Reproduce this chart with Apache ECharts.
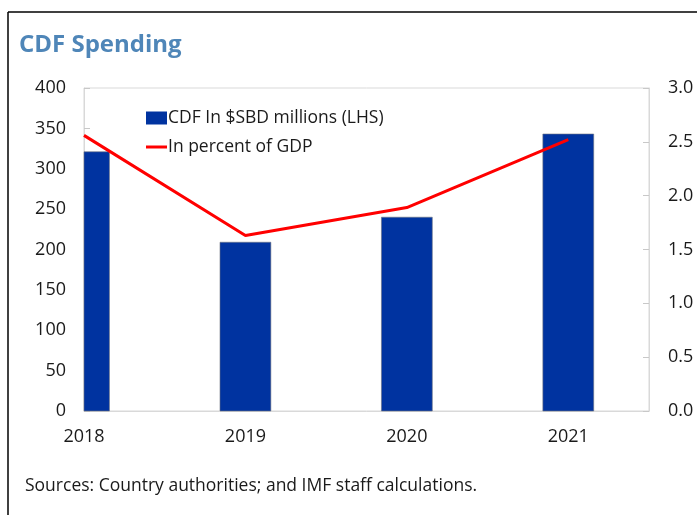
<!DOCTYPE html>
<html>
<head>
<meta charset="utf-8">
<script src="https://cdn.jsdelivr.net/npm/echarts@6/dist/echarts.min.js"></script>
<style>
  html, body { margin: 0; padding: 0; background: #fff; }
  #chart { width: 697px; height: 515px; }
</style>
</head>
<body>
<div id="chart"></div>
<script>
// Years on the horizontal axis
const years = [2018, 2019, 2020, 2021];
// CDF spending, SBD millions (left axis)
const cdfSpending = [321, 209, 240, 343];
// CDF spending as a share of GDP, percent (right axis)
const cdfPctGdp = [2.56, 1.63, 1.89, 2.52];
// Axis tick settings
const leftTicks = { min: 0, max: 400, interval: 50 };
const rightTicks = { min: 0, max: 3, interval: 0.5 };
// Bar width, in years
const BAR_SPAN = 0.315;

const FONT = '"Open Sans", "Noto Sans", sans-serif';
const TEXT = '#1a1a1a';
const FRAME = '#d9d9d9';

const chart = echarts.init(document.getElementById('chart'), null, { renderer: 'canvas' });

// Bars drawn as a custom series so the bar at the axis start is clipped to the plot area
function renderBar(params, api) {
  const x = api.value(0);
  const v = api.value(1);
  const left = api.coord([x - BAR_SPAN / 2, v]);
  const right = api.coord([x + BAR_SPAN / 2, 0]);
  const cs = params.coordSys;
  const rect = echarts.graphic.clipRectByRect(
    { x: left[0], y: left[1], width: right[0] - left[0], height: right[1] - left[1] },
    { x: cs.x, y: cs.y, width: cs.width, height: cs.height }
  );
  if (!rect) return null;
  return {
    type: 'rect',
    shape: rect,
    style: { fill: '#0033a0', stroke: '#6b7280', lineWidth: 0.6 }
  };
}

chart.setOption({
  backgroundColor: '#ffffff',
  animation: false,
  textStyle: { fontFamily: FONT },
  title: {
    text: 'CDF Spending',
    left: 14,
    top: 28,
    textStyle: { fontFamily: FONT, fontSize: 24, fontWeight: 'bold', color: '#4f86b8' }
  },
  graphic: [
    { type: 'line', shape: { x1: 8, y1: 12, x2: 697, y2: 12 }, style: { stroke: '#000', lineWidth: 1.5 } },
    { type: 'line', shape: { x1: 8, y1: 12, x2: 8, y2: 515 }, style: { stroke: '#000', lineWidth: 1.5 } },
    {
      type: 'text', left: 25, top: 477,
      style: { text: 'Sources: Country authorities; and IMF staff calculations.', font: '17.5px ' + FONT, fill: TEXT }
    }
  ],
  legend: {
    orient: 'vertical',
    left: 141,
    top: 104,
    itemGap: 11,
    itemWidth: 21,
    itemHeight: 13,
    itemStyle: { borderWidth: 0 },
    textStyle: { fontFamily: FONT, fontSize: 17.5, color: TEXT, padding: [0, 0, 0, -4] },
    data: [
      { name: 'CDF In $SBD millions (LHS)', icon: 'rect', itemStyle: { color: '#0033a0', borderWidth: 0 } },
      { name: 'In percent of GDP', icon: 'path://M0,0 H21 V3 H0 Z', itemStyle: { color: '#ff0000', borderWidth: 0 } }
    ]
  },
  grid: {
    left: 84, right: 48, top: 88, bottom: 104,
    show: true, borderColor: FRAME, borderWidth: 1
  },
  xAxis: {
    type: 'value',
    min: 2018, max: 2021.5, interval: 1,
    axisLine: { show: true, lineStyle: { color: FRAME } },
    axisTick: { show: true, inside: true, length: 6, lineStyle: { color: '#c8c8c8' } },
    splitLine: { show: false },
    axisLabel: {
      fontFamily: FONT, fontSize: 18, color: TEXT, margin: 17,
      showMaxLabel: false,
      formatter: v => (Number.isInteger(v) ? String(v) : '')
    }
  },
  yAxis: [
    {
      type: 'value', position: 'left',
      min: leftTicks.min, max: leftTicks.max, interval: leftTicks.interval,
      axisLine: { show: true, lineStyle: { color: FRAME } },
      axisTick: { show: true, inside: true, length: 6, lineStyle: { color: '#c8c8c8' } },
      splitLine: { show: false },
      axisLabel: { fontFamily: FONT, fontSize: 18, color: TEXT, margin: 18 }
    },
    {
      type: 'value', position: 'right',
      min: rightTicks.min, max: rightTicks.max, interval: rightTicks.interval,
      axisLine: { show: true, lineStyle: { color: FRAME } },
      axisTick: { show: true, inside: true, length: 6, lineStyle: { color: '#c8c8c8' } },
      splitLine: { show: false },
      axisLabel: { fontFamily: FONT, fontSize: 18, color: TEXT, margin: 19, formatter: v => v.toFixed(1) }
    }
  ],
  series: [
    {
      name: 'CDF In $SBD millions (LHS)',
      type: 'custom',
      yAxisIndex: 0,
      renderItem: renderBar,
      itemStyle: { color: '#0033a0' },
      encode: { x: 0, y: 1 },
      data: years.map((y, i) => [y, cdfSpending[i]])
    },
    {
      name: 'In percent of GDP',
      type: 'line',
      yAxisIndex: 1,
      showSymbol: false,
      symbol: 'none',
      z: 3,
      lineStyle: { color: '#ff0000', width: 3 },
      itemStyle: { color: '#ff0000' },
      data: years.map((y, i) => [y, cdfPctGdp[i]])
    }
  ]
});
</script>
</body>
</html>
